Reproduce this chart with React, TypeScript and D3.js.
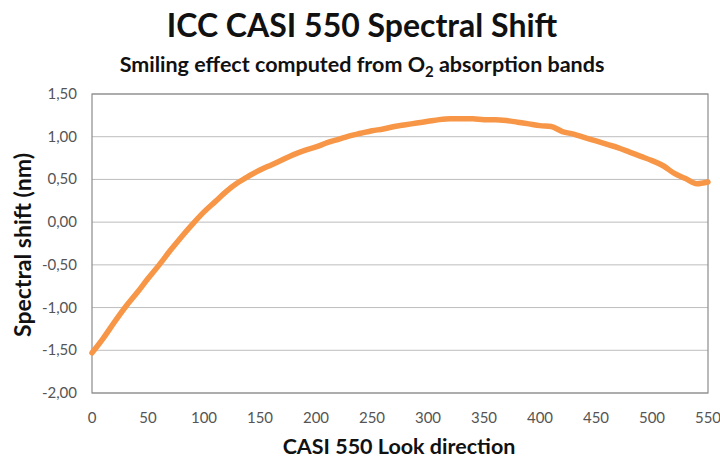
import * as d3 from "d3";

const lookDirection = [
  0, 10, 20, 30, 40, 50, 60, 70, 80, 90, 100, 110, 120, 130, 140, 150, 160, 170, 180, 190,
  200, 210, 220, 230, 240, 250, 260, 270, 280, 290, 300, 310, 320, 330, 340, 350, 360, 370,
  380, 390, 400, 410, 420, 430, 440, 450, 460, 470, 480, 490, 500, 510, 520, 530, 540, 550,
];
const spectralShift = [
  -1.53, -1.36, -1.17, -0.99, -0.83, -0.66, -0.5, -0.33, -0.17, -0.02, 0.12, 0.24, 0.36, 0.46,
  0.54, 0.61, 0.67, 0.73, 0.79, 0.84, 0.88, 0.93, 0.97, 1.01, 1.04, 1.07, 1.09, 1.12, 1.14, 1.16,
  1.18, 1.2, 1.21, 1.21, 1.21, 1.2, 1.2, 1.19, 1.17, 1.15, 1.13, 1.12, 1.06, 1.03, 0.99, 0.95,
  0.91, 0.87, 0.82, 0.77, 0.72, 0.66, 0.57, 0.51, 0.45, 0.47,
];
const xTicks = [0, 50, 100, 150, 200, 250, 300, 350, 400, 450, 500, 550];
const yTicks = [-2, -1.5, -1, -0.5, 0, 0.5, 1, 1.5];

const width = 720;
const height = 461;
const pad = { top: 94, right: 12, bottom: 68, left: 92 };
const font = "Lato, 'Open Sans', sans-serif";

export default function App() {
  const innerW = width - pad.left - pad.right;
  const innerH = height - pad.top - pad.bottom;

  const x = d3.scaleLinear().domain([0, 550]).range([0, innerW]);
  const y = d3.scaleLinear().domain([-2, 1.5]).range([innerH, 0]);

  const points: [number, number][] = lookDirection.map((d, i) => [d, spectralShift[i]]);
  const line = d3
    .line<[number, number]>()
    .x((d) => x(d[0]))
    .y((d) => y(d[1]))
    .curve(d3.curveMonotoneX);

  const fmt = (v: number) => v.toFixed(2).replace(".", ",");

  return (
    <svg
      width={width}
      height={height}
      style={{ position: "absolute", left: 0, top: 0, background: "white" }}
      fontFamily={font}
    >
      <text x={362} y={37} fontSize={32} fontWeight="bold" textAnchor="middle" fill="#111">
        ICC CASI 550 Spectral Shift
      </text>
      <text x={362} y={72} fontSize={21.5} fontWeight="bold" textAnchor="middle" fill="#111">
        Smiling effect computed from O
        <tspan fontSize={15} dy={5}>2</tspan>
        <tspan dy={-5}> absorption bands</tspan>
      </text>

      <g transform={`translate(${pad.left},${pad.top})`}>
        {yTicks.map((t) => (
          <line
            key={t}
            x1={0}
            x2={innerW}
            y1={y(t)}
            y2={y(t)}
            stroke="#bdbdbd"
            strokeWidth={1}
          />
        ))}
        <rect
          x={0}
          y={0}
          width={innerW}
          height={innerH}
          fill="none"
          stroke="#8c8c8c"
          strokeWidth={1.2}
        />
        <path
          d={line(points) ?? ""}
          fill="none"
          stroke="#f79646"
          strokeWidth={5.5}
          strokeLinejoin="round"
          strokeLinecap="round"
        />

        {yTicks.map((t) => (
          <text
            key={t}
            x={-15}
            y={y(t) + 5}
            fontSize={15}
            textAnchor="end"
            fill="#555"
          >
            {fmt(t)}
          </text>
        ))}
        {xTicks.map((t) => (
          <text
            key={t}
            x={x(t)}
            y={innerH + 30}
            fontSize={15}
            textAnchor="middle"
            fill="#555"
          >
            {t}
          </text>
        ))}

        <text
          x={307}
          y={innerH + 61}
          fontSize={21.5}
          fontWeight="bold"
          textAnchor="middle"
          fill="#111"
        >
          CASI 550 Look direction
        </text>
      </g>

      <text
        transform={`translate(31,245) rotate(-90)`}
        fontSize={23}
        fontWeight="bold"
        textAnchor="middle"
        fill="#111"
      >
        Spectral shift (nm)
      </text>
    </svg>
  );
}
